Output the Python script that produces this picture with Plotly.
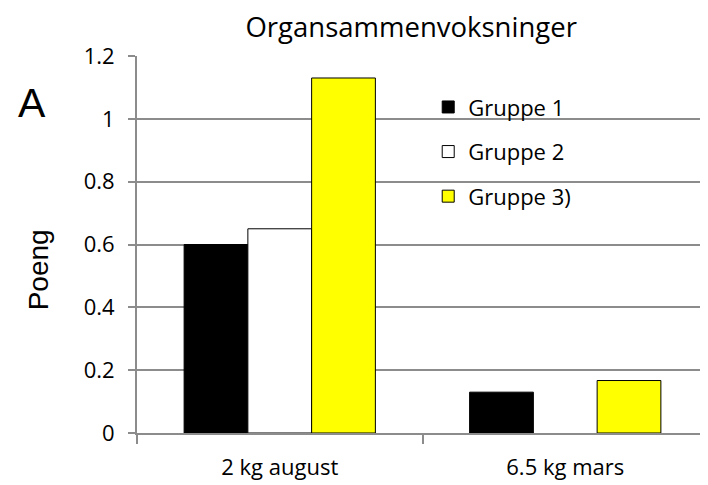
import plotly.graph_objects as go

categories = ["2 kg august", "6.5 kg mars"]
gruppe1 = [0.60, 0.13]
gruppe2 = [0.65, None]
gruppe3 = [1.13, 0.167]
series_names = ["Gruppe 1", "Gruppe 2", "Gruppe 3)"]
y_ticks = [0, 0.2, 0.4, 0.6, 0.8, 1.0, 1.2]
y_tick_labels = ["0", "0.2", "0.4", "0.6", "0.8", "1", "1.2"]

colors = ["#000000", "#ffffff", "#ffff00"]
font_fam = "Open Sans, Noto Sans, sans-serif"

fig = go.Figure()
for i, (name, vals) in enumerate(zip(series_names, [gruppe1, gruppe2, gruppe3])):
    fig.add_trace(go.Bar(
        x=categories, y=vals, name=name, legendgroup=name,
        marker=dict(color=colors[i], line=dict(color="#000000", width=1)),
    ))

fig.update_layout(
    width=700, height=477,
    margin=dict(l=129, r=0, t=48, b=52),
    paper_bgcolor="white", plot_bgcolor="white",
    barmode="group", bargap=0.33, bargroupgap=0,
    font=dict(family=font_fam, size=22, color="black"),
    title=dict(text="Organsammenvoksninger", x=0.576, xanchor="center",
               y=0.96, yanchor="middle", font=dict(size=27.5, family=font_fam)),
    legend=dict(x=0.51, y=0.92, xanchor="left", yanchor="top",
                bgcolor="rgba(0,0,0,0)", tracegroupgap=13,
                font=dict(size=22, family=font_fam)),
    showlegend=True,
)
fig.update_yaxes(
    range=[0, 1.2], tickvals=y_ticks, ticktext=y_tick_labels,
    showgrid=True, gridcolor="#8c8c8c", gridwidth=2,
    showline=True, linecolor="#8c8c8c", linewidth=2,
    ticks="outside", ticklen=7, tickcolor="#8c8c8c", tickwidth=2,
    ticklabelstandoff=9,
    zeroline=False, tickfont=dict(size=22),
)
fig.update_xaxes(
    showline=True, linecolor="#8c8c8c", linewidth=2,
    ticks="outside", tickson="boundaries", ticklen=9, tickcolor="#8c8c8c", tickwidth=2,
    ticklabelstandoff=14,
    tickfont=dict(size=22), showgrid=False,
)
fig.add_annotation(text="A", xref="paper", yref="paper", x=-0.184, y=0.875,
                   xanchor="center", yanchor="middle", showarrow=False,
                   font=dict(family="Liberation Sans, Arial", size=41))
fig.add_annotation(text="Poeng", xref="paper", yref="paper", x=-0.173, y=0.432,
                   xanchor="center", yanchor="middle", showarrow=False, textangle=-90,
                   font=dict(family="Liberation Sans, Arial", size=28))

fig.write_html("out.html")
